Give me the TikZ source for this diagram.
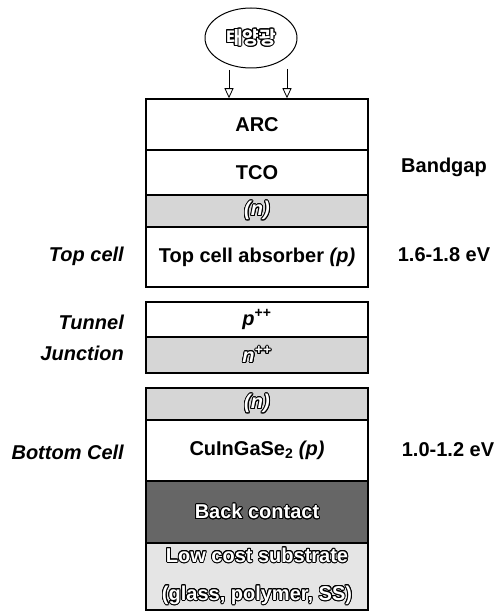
\documentclass[tikz,border=0pt]{standalone}
\usepackage{fontspec}
\setmainfont{Liberation Sans}
\newfontfamily\kofont{Noto Sans CJK KR}
\usepackage{contour}
\contourlength{0.9pt}
\usetikzlibrary{arrows.meta,shapes.geometric}
\newcommand\outt[1]{\textcolor{white}{\contour{black}{#1}}}
\begin{document}
\begin{tikzpicture}[x=1pt,y=-1pt,
  layer/.style={draw, line width=1.5pt, minimum width=222pt, inner sep=0pt,
    font=\fontsize{20}{24}\selectfont\bfseries},
  light/.style={layer, fill=black!16},
  dark/.style={layer, fill=black!60},
  side/.style={font=\fontsize{20}{31}\selectfont\bfseries\itshape, align=right, anchor=east, inner sep=0pt},
  gap/.style={font=\fontsize{20}{24}\selectfont\bfseries, inner sep=0pt},
  sunarrow/.style={-{Triangle[open,length=10pt,width=9pt]}, line width=0.8pt}]
\useasboundingbox (0,0) rectangle (498,612);
\node[draw, ellipse, line width=1pt, minimum width=92pt, minimum height=60pt, inner sep=0pt,
  font=\kofont\fontsize{18}{20}\selectfont\bfseries] (sun) at (251,38) {\outt{태양광}};
\node[layer, minimum height=51pt] (arc) at (257,124.5) {ARC};
\node[layer, minimum height=45pt] (tco) at (257,172.5) {TCO};
\node[light, minimum height=32pt] (n1) at (257,211) {\itshape\outt{(n)}};
\node[layer, minimum height=60pt] (tabs) at (257,257) {Top cell absorber \textit{(p)}};
\node[layer, minimum height=35pt] (ppp) at (257,319.5) {\textit{p}\textsuperscript{++}};
\node[light, minimum height=36pt] (npp) at (257,355) {\itshape\outt{n\textsuperscript{++}}};
\node[light, minimum height=32pt] (n2) at (257,404) {\itshape\outt{(n)}};
\node[layer, minimum height=61pt] (cigs) at (257,450.5) {CuInGaSe\textsubscript{2} \textit{(p)}};
\node[dark, minimum height=62pt] (back) at (257,512) {\outt{Back contact}};
\node[layer, fill=black!10, minimum height=67pt, align=center, font=\fontsize{20}{38}\selectfont\bfseries] (sub) at (257,576.5)
  {\outt{Low cost substrate}\\\outt{(glass, polymer, SS)}};
\coordinate (s1) at (229,70);
\coordinate (s2) at (287,69);
\draw[sunarrow] (s1) -- (s1 |- arc.north);
\draw[sunarrow] (s2) -- (s2 |- arc.north);
\node[side] (tc) at (124,256) {Top cell};
\node[side] (tj) at (124,338) {Tunnel\\Junction};
\node[side] (bc) at (124,452) {Bottom Cell};
\node[gap] (bg) at (444,167) {Bandgap};
\node[gap] (e1) at (444,255) {1.6-1.8 eV};
\node[gap] (e2) at (448,450) {1.0-1.2 eV};
\end{tikzpicture}
\end{document}
